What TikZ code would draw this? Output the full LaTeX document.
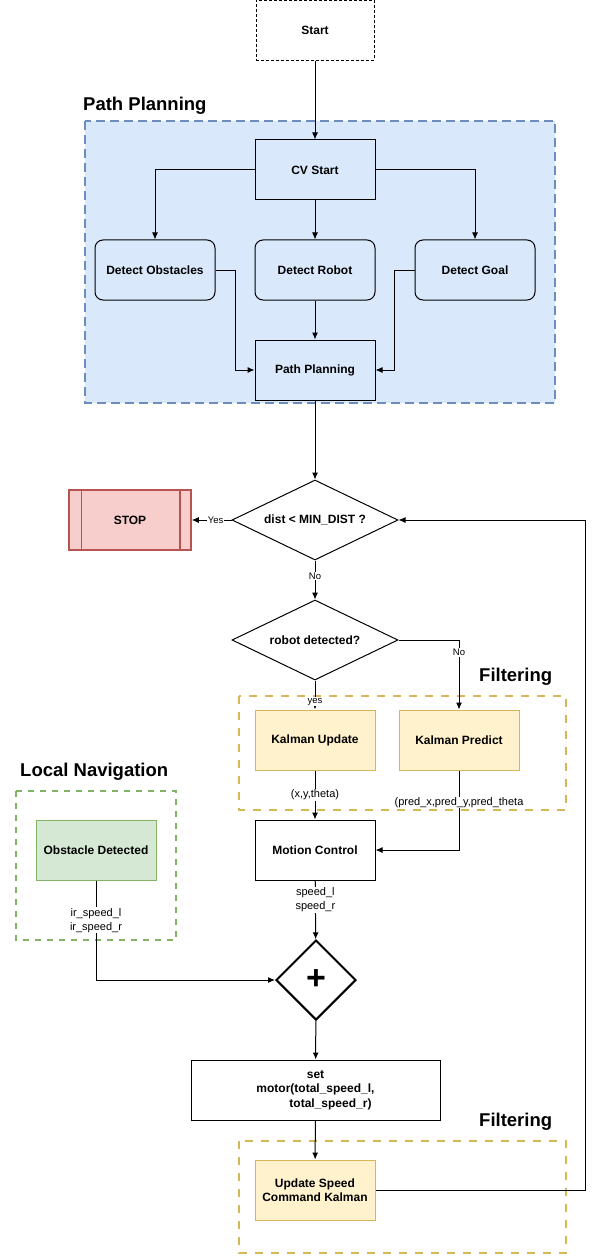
\documentclass[tikz,border=0pt]{standalone}
\usepackage{fontspec}
\setmainfont{Liberation Sans}
\usepackage{xcolor}
\usepackage{tikz}
\usetikzlibrary{calc, shapes.geometric, positioning, arrows.meta}

\definecolor{ppfill}{HTML}{DAE8FC}
\definecolor{ppdraw}{HTML}{6C8EBF}
\definecolor{kfill}{HTML}{FFF2CC}
\definecolor{kdraw}{HTML}{D6B656}
\definecolor{lnfill}{HTML}{D5E8D4}
\definecolor{lndraw}{HTML}{82B366}
\definecolor{stopfill}{HTML}{F8CECC}
\definecolor{stopdraw}{HTML}{B85450}

\tikzset{
    box/.style={draw, line width=1pt, minimum width=120pt, minimum height=60pt,
        align=center, inner sep=2pt, font=\fontsize{12}{14.5}\selectfont\bfseries},
    rbox/.style={box, rounded corners=8pt},
    kbox/.style={box, fill=kfill, draw=kdraw},
    decision/.style={diamond, draw, line width=1pt, aspect=2, inner sep=0pt,
        font=\fontsize{12}{14}\selectfont\bfseries},
    elabel/.style={fill=white, inner sep=1pt, align=center, font=\fontsize{11}{14}\selectfont},
    slabel/.style={fill=white, inner sep=1pt, font=\fontsize{9.5}{11}\selectfont},
    grouptitle/.style={anchor=base west, inner sep=0pt, font=\fontsize{18.5}{20}\selectfont\bfseries},
    flow/.style={->, line width=1pt}
}

\begin{document}
\begin{tikzpicture}[>={Latex[length=7pt, width=6pt]}, x=1pt, y=-1pt]
    \useasboundingbox (0,0) rectangle (596,1257);

    % 1. Các khung nhóm (vẽ trước các nút)
    \draw[ppdraw, fill=ppfill, line width=2.5pt, dash pattern=on 9pt off 5pt] (85,121) rectangle (555,403);
    \draw[kdraw, line width=2.5pt, dash pattern=on 8pt off 8pt] (239,696) rectangle (566,810);
    \draw[lndraw, line width=2pt, dash pattern=on 6pt off 6pt] (16,791) rectangle (176,940);
    \draw[kdraw, line width=2.5pt, dash pattern=on 8pt off 8pt] (239,1141) rectangle (566,1253);

    \node[grouptitle] (pptitle) at (83,110.5) {Path Planning};
    \node[grouptitle] (filttitle) at (479,681) {Filtering};
    \node[grouptitle] (lntitle) at (20,776) {Local Navigation};
    \node[grouptitle] (filttitleb) at (479,1126) {Filtering};

    % 2. Khối Path Planning
    \node[box, dash pattern=on 3pt off 2pt, minimum width=118pt] (start) at (315,30.5) {Start};
    \node[box] (cvstart) at (315,170) {CV Start};
    \node[rbox] (detobs) at (155,270) {Detect Obstacles};
    \node[rbox] (detrobot) at (315,270) {Detect Robot};
    \node[rbox] (detgoal) at (475,270) {Detect Goal};
    \node[box] (pathplan) at (315,370) {Path Planning};

    \draw[flow] (start) -- (cvstart);
    \draw[flow] (cvstart.west) -| (detobs.north);
    \draw[flow] (cvstart.east) -| (detgoal.north);
    \draw[flow] (cvstart) -- (detrobot);
    \draw[flow] (detrobot) -- (pathplan);
    \draw[flow] (detobs.east) -- ++(20,0) |- (pathplan.west);
    \draw[flow] (detgoal.west) -- ++(-20,0) |- (pathplan.east);

    % 3. Các điều kiện và nút STOP
    \node[decision, minimum width=166pt, minimum height=80pt] (dist) at (315,520) {dist < MIN\_DIST ?};
    \node[box, fill=stopfill, draw=stopdraw, line width=1.5pt, minimum width=122pt] (stop) at (130,520) {STOP};
    \draw[stopdraw, line width=1.5pt] ([xshift=13pt]stop.north west) -- ([xshift=13pt]stop.south west);
    \draw[stopdraw, line width=1.5pt] ([xshift=-12pt]stop.north east) -- ([xshift=-12pt]stop.south east);
    \node[decision, minimum width=166pt, minimum height=80pt] (robotdet) at (315,640) {robot detected?};

    \draw[flow] (pathplan) -- (dist);
    \draw[flow] (dist.west) -- node[slabel, pos=0.4] {Yes} (stop.east);
    \draw[flow] (dist.south) -- node[slabel, pos=0.4] {No} (robotdet.north);

    % 4. Bộ lọc Kalman và điều khiển chuyển động
    \node[kbox] (kupdate) at (315,740) {Kalman Update};
    \node[kbox] (kpredict) at (459,740) {Kalman Predict};
    \node[box] (motion) at (315,850) {Motion Control};

    \draw[flow] (robotdet.south) -- node[slabel, pos=0.73] {yes} (kupdate.north);
    \draw[flow] (robotdet.east) -| node[slabel, pos=0.59] {No} (kpredict.north);
    \draw[flow] (kupdate) -- node[elabel] {(x,y,theta)} (motion);
    \draw[flow] (kpredict.south) |- node[elabel, inner sep=0.5pt, pos=0.2] {(pred\_x,pred\_y,pred\_theta} (motion.east);

    % 5. Local Navigation và nút cộng
    \node[box, fill=lnfill, draw=lndraw] (obstacle) at (96,850) {Obstacle Detected};
    \node[decision, aspect=1, minimum width=80pt, minimum height=80pt, line width=2pt,
        font=\fontsize{34}{34}\selectfont\bfseries] (sum) at (316,980) {+};

    \draw[flow] (motion) -- node[elabel, pos=0.33] {speed\_l\\speed\_r} (sum);
    \draw[flow] (obstacle.south) |- node[elabel, pos=0.2] {ir\_speed\_l\\ir\_speed\_r} (sum.west);

    % 6. Đặt tốc độ động cơ và vòng phản hồi
    \node[box, minimum width=249pt] (setmotor) at (315.5,1090) {set\\motor(total\_speed\_l,\\\hspace*{30pt}total\_speed\_r)};
    \node[kbox] (updspeed) at (315,1190) {Update Speed\\Command Kalman};

    \draw[flow] (sum) -- (setmotor);
    \draw[flow] (setmotor) -- (updspeed);
    \draw[flow] (updspeed.east) -- ++(210,0) |- (dist.east);

\end{tikzpicture}
\end{document}
